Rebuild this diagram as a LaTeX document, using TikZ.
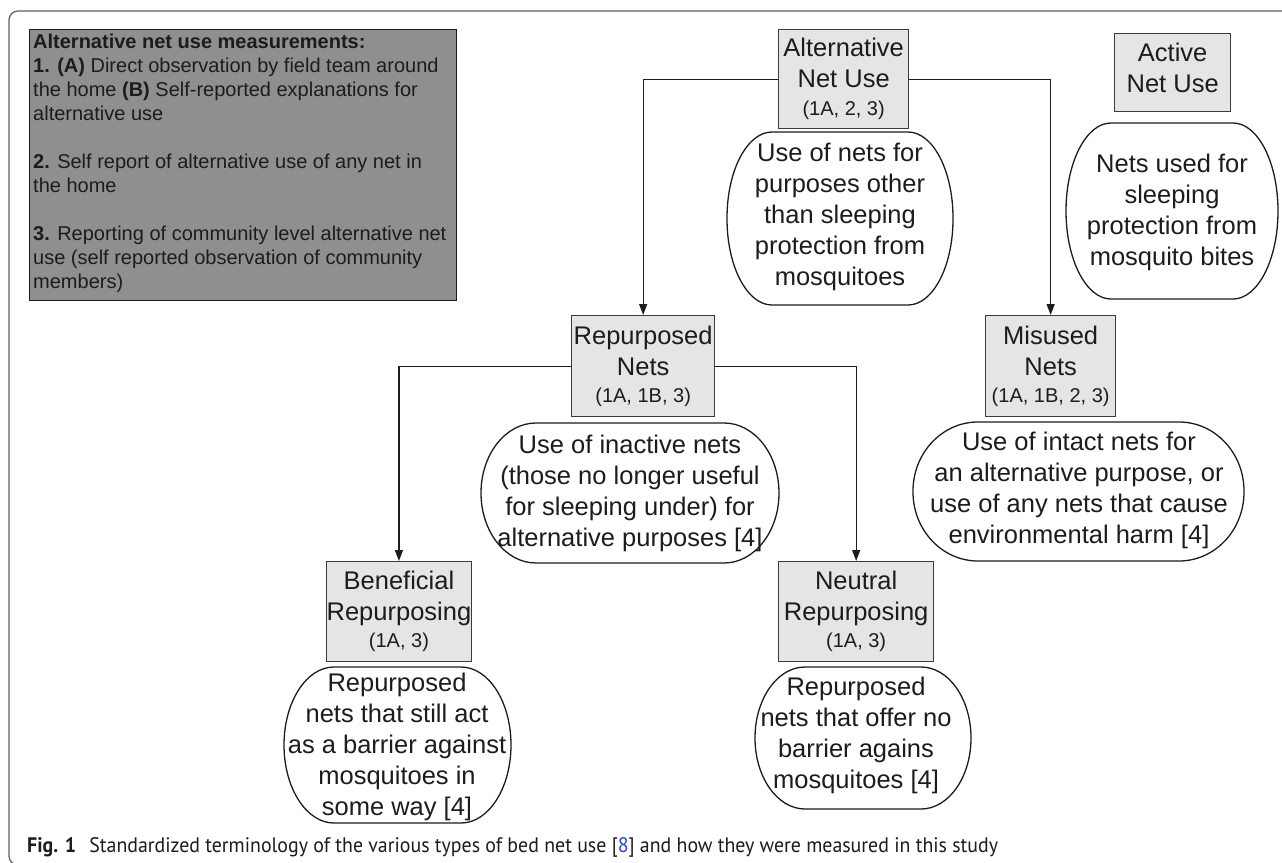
\documentclass[tikz,border=0pt]{standalone}
\usepackage{fontspec}
\setmainfont{Liberation Sans}
\newfontfamily\capfont{PT Sans}
\usetikzlibrary{arrows.meta}
\definecolor{legendgray}{RGB}{143,143,143}
\definecolor{boxgray}{RGB}{229,229,229}
\definecolor{inkc}{RGB}{28,28,28}
\definecolor{boxborder}{RGB}{60,60,60}
\definecolor{framec}{RGB}{95,95,95}
\definecolor{linkblue}{RGB}{40,70,220}
\newcommand{\pillpath}[6]{%
 \draw[pillst] (#1+#5,#2) -- (#3-#5,#2)
   .. controls (#3-0.4477*#5,#2) and (#3,#2+0.4477*#6) .. (#3,#2+#6)
   -- (#3,#4-#6)
   .. controls (#3,#4-0.4477*#6) and (#3-0.4477*#5,#4) .. (#3-#5,#4)
   -- (#1+#5,#4)
   .. controls (#1+0.4477*#5,#4) and (#1,#4-0.4477*#6) .. (#1,#4-#6)
   -- (#1,#2+#6)
   .. controls (#1,#2+0.4477*#6) and (#1+0.4477*#5,#2) .. (#1+#5,#2) -- cycle;}
\begin{document}
\begin{tikzpicture}[x=1pt,y=-1pt,
  boxst/.style={draw=boxborder, fill=boxgray, line width=1.3pt, inner sep=0pt,
    align=center, text=inkc, anchor=north west, font=\fontsize{25.5}{31}\selectfont},
  pillst/.style={draw=inkc, line width=1.3pt},
  pilltext/.style={inner sep=0pt, align=center, text=inkc, font=\fontsize{25.5}{31}\selectfont},
  arr/.style={draw=inkc, line width=1.3pt, -{Triangle[length=11pt,width=8pt]}}]
\useasboundingbox (0,0) rectangle (1282,862);
% frame
\begin{scope}
\clip (0,0) rectangle (1282,862);
\draw[framec, line width=1.2pt, rounded corners=9pt] (1300,11) -- (9,11) -- (9,865) -- (1300,865);
\end{scope}
% legend
\node[draw=inkc, fill=legendgray, line width=1.3pt, anchor=north west, minimum width=427pt, minimum height=271pt, inner sep=0pt] (legend) at (29,29) {};
\node[anchor=north west, inner sep=0pt, align=left, text=inkc, font=\fontsize{20}{24}\selectfont] (legendtext) at (33,34) {%
\textbf{Alternative net use measurements:}\\
\textbf{1. (A)} Direct observation by field team around\\
the home \textbf{(B)} Self-reported explanations for\\
alternative use\\[24pt]
\textbf{2.} Self report of alternative use of any net in\\
the home\\[24pt]
\textbf{3.} Reporting of community level alternative net\\
use (self reported observation of community\\
members)};
% boxes
\node[boxst, minimum width=130pt, minimum height=99pt] (alt) at (778,29)
 {Alternative\\Net Use\\[-3pt]{\fontsize{20}{24}\selectfont (1A, 2, 3)}};
\node[boxst, minimum width=116pt, minimum height=78pt, text depth=10pt] (act) at (1114,33)
 {Active\\Net Use};
\node[boxst, minimum width=143pt, minimum height=101pt] (rep) at (571,315)
 {Repurposed\\Nets\\[-4pt]{\fontsize{20}{24}\selectfont (1A, 1B, 3)}};
\node[boxst, minimum width=130pt, minimum height=101pt] (mis) at (985,315)
 {Misused\\Nets\\[-4pt]{\fontsize{20}{24}\selectfont (1A, 1B, 2, 3)}};
\node[boxst, minimum width=143pt, minimum height=100pt] (ben) at (326,561)
 {Beneficial\\Repurposing\\[-4pt]{\fontsize{20}{24}\selectfont (1A, 3)}};
\node[boxst, minimum width=155pt, minimum height=100pt] (neu) at (778,561)
 {Neutral\\Repurposing\\[-4pt]{\fontsize{20}{24}\selectfont (1A, 3)}};
% pill outlines
\pillpath{727}{132}{953}{305}{45}{86}
\pillpath{1066}{123}{1278}{299}{45}{88}
\pillpath{481}{423}{779}{563}{55}{70}
\pillpath{913}{422}{1244}{561}{65}{69}
\pillpath{284}{667}{511}{823}{50}{78}
\pillpath{755}{667}{971}{809}{50}{71}
% pill texts
\node[pilltext] (altE) at (840,217) {Use of nets for\\purposes other\\than sleeping\\protection from\\mosquitoes};
\node[pilltext] (actE) at (1172,212) {Nets used for\\sleeping\\protection from\\mosquito bites};
\node[pilltext] (repE) at (630,493) {Use of inactive nets\\(those no longer useful\\for sleeping under) for\\alternative purposes [4]};
\node[pilltext] (misE) at (1079,490) {Use of intact nets for\\an alternative purpose, or\\use of any nets that cause\\environmental harm [4]};
\node[pilltext] (benE) at (397,747) {Repurposed\\nets that still act\\as a barrier against\\mosquitoes in\\some way [4]};
\node[pilltext] (neuE) at (856,735) {Repurposed\\nets that offer no\\barrier agains\\mosquitoes [4]};
% connectors
\draw[arr] (alt.west) -| (rep.north);
\draw[arr] (alt.east) -| (mis.north);
\draw[arr] (rep.west) -| (ben.north);
\draw[arr] (rep.east) -| (neu.north);
% caption
\node[anchor=base west, inner sep=0pt, text=inkc, font=\capfont\fontsize{21}{25}\selectfont] (cap) at (27,852)
 {\scalebox{0.946}[1]{\textbf{Fig. 1}\hspace{14pt}Standardized terminology of the various types of bed net use [{\color{linkblue}8}] and how they were measured in this study}};
\end{tikzpicture}
\end{document}
